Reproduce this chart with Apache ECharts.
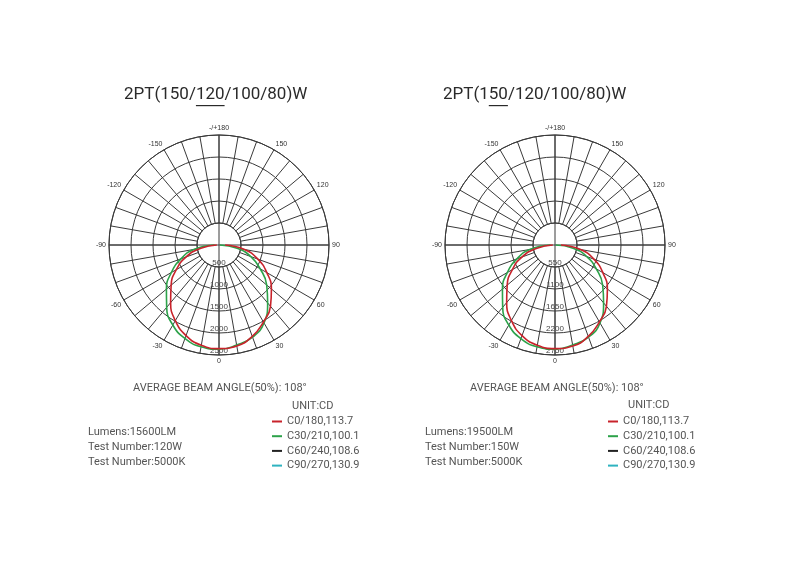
<!DOCTYPE html>
<html>
<head>
<meta charset="utf-8">
<title>2PT light distribution</title>
<script src="https://cdn.jsdelivr.net/npm/echarts/dist/echarts.min.js"></script>
<style>
    html, body { margin:0; padding:0; background:#fff; }
    #main { width:800px; height:582px; }
</style>
</head>
<body>
<div id="main"></div>
<script>
// gamma angles, 0 = straight down, + to the right
var angles = [-90,-80,-70,-60,-50,-40,-30,-20,-10,0,10,20,30,40,50,60,70,80,90];

// candela values
var leftC0   = [50,420,800,1120,1420,1710,1985,2190,2315,2355,2330,2210,2020,1820,1555,1255,940,590,140];
var leftC30  = [100,580,920,1250,1560,1850,2100,2260,2350,2370,2310,2230,2045,1720,1415,1080,770,420,20];
var rightC0  = [55,460,880,1230,1560,1880,2180,2410,2545,2590,2565,2430,2220,2000,1710,1380,1035,650,150];
var rightC30 = [110,640,1010,1375,1715,2035,2310,2490,2585,2605,2540,2450,2250,1890,1555,1190,845,460,20];
var emptyCurve = [];

var leftRings  = [500,1000,1500,2000,2500];
var rightRings = [550,1100,1650,2200,2750];

var titles      = ['2PT(150/120/100/80)W', '2PT(150/120/100/80)W'];
var underlined  = [['2PT(150/', '120'], ['2PT(1', '50']];
var beamText    = 'AVERAGE BEAM ANGLE(50%): 108°';
var unitText    = 'UNIT:CD';
var legendNames = ['C0/180,113.7', 'C30/210,100.1', 'C60/240,108.6', 'C90/270,130.9'];
var legendColors = ['#c8232b', '#2ca24a', '#222222', '#2fb3c0'];
var infoLeft  = ['Lumens:15600LM', 'Test Number:120W', 'Test Number:5000K'];
var infoRight = ['Lumens:19500LM', 'Test Number:150W', 'Test Number:5000K'];

var gridColor = '#3a3a3a';

function toPolar(vals) {
    return vals.map(function (v, i) {
        return [v, (angles[i] + 360) % 360];
    });
}

function angleLabel(v) {
    if (v % 30 !== 0 || v === 360) return '';
    if (v === 180) return '-/+180';
    return v < 180 ? String(v) : String(v - 360);
}

var polar = [], angleAxis = [], radiusAxis = [], series = [];

function addChart(cx, rings, curves) {
    var step = rings[1] - rings[0];
    var top = rings[rings.length - 1];
    var gridIdx = polar.length;
    // grid with the hole in the middle
    polar.push({ center: [cx, 245], radius: [22, 110] });
    // full radius, carries the data
    polar.push({ center: [cx, 245], radius: [0, 110] });

    angleAxis.push({
        polarIndex: gridIdx, type: 'value', min: 0, max: 360, interval: 10,
        startAngle: 270, clockwise: false,
        axisLine: { show: true, lineStyle: { color: gridColor, width: 1 } },
        axisTick: { show: false },
        splitLine: { show: true, lineStyle: { color: gridColor, width: 1 } },
        axisLabel: { show: true, margin: 3, fontSize: 7, color: '#333',
            fontFamily: 'Liberation Sans', formatter: angleLabel }
    });
    angleAxis.push({
        polarIndex: gridIdx + 1, type: 'value', min: 0, max: 360, interval: 90,
        startAngle: 270, clockwise: false,
        axisLine: { show: false }, axisTick: { show: false }, axisLabel: { show: false },
        splitLine: { show: true, lineStyle: { color: gridColor, width: 1 } }
    });
    radiusAxis.push({
        polarIndex: gridIdx, type: 'value', min: rings[0], max: top, interval: step,
        axisLine: { show: false }, axisTick: { show: false }, axisLabel: { show: false },
        splitLine: { show: true, lineStyle: { color: gridColor, width: 1 } }
    });
    radiusAxis.push({
        polarIndex: gridIdx + 1, type: 'value', min: 0, max: top, interval: step,
        axisLine: { show: false }, axisTick: { show: false }, splitLine: { show: false },
        axisLabel: { show: true, margin: 0, align: 'center', verticalAlign: 'bottom',
            fontSize: 8, color: '#444', fontFamily: 'Liberation Sans',
            formatter: function (v) { return v === 0 ? '' : String(v); } }
    });

    // green first so red sits on top
    var order = [1, 0, 2, 3];
    order.forEach(function (k) {
        series.push({
            name: legendNames[k], type: 'line', coordinateSystem: 'polar',
            polarIndex: gridIdx + 1, data: toPolar(curves[k]),
            smooth: 0.5, showSymbol: false, clip: false, silent: true,
            color: legendColors[k],
            lineStyle: { color: legendColors[k], width: 1.6 }
        });
    });
}

addChart(219, leftRings, [leftC0, leftC30, emptyCurve, emptyCurve]);
addChart(555, rightRings, [rightC0, rightC30, emptyCurve, emptyCurve]);

// plain texts
var ctx = document.createElement('canvas').getContext('2d');
ctx.font = '17px Roboto';
var graphics = [];
function addText(x, y, text, size, color) {
    graphics.push({ type: 'text', x: x, y: y, silent: true,
        style: { text: text, font: size + 'px Roboto', fill: color, verticalAlign: 'middle' } });
}
var titleX = [124, 443];
titleX.forEach(function (x, i) {
    addText(x, 95, titles[i], 17, '#2a2a2a');
    var w0 = ctx.measureText(underlined[i][0]).width;
    var w1 = ctx.measureText(underlined[i][1]).width;
    graphics.push({ type: 'rect', silent: true,
        shape: { x: x + w0, y: 105, width: w1, height: 1.2 },
        style: { fill: '#2a2a2a' } });
});
addText(133, 388, beamText, 11, '#555');
addText(470, 388, beamText, 11, '#555');
addText(292, 406, unitText, 11, '#555');
addText(628, 405, unitText, 11, '#555');
infoLeft.forEach(function (t, i) { addText(88, 432 + i * 15, t, 11, '#555'); });
infoRight.forEach(function (t, i) { addText(425, 432 + i * 15, t, 11, '#555'); });

function legendAt(x) {
    return {
        orient: 'vertical', left: x, top: 411, icon: 'rect',
        itemWidth: 10, itemHeight: 2, itemGap: 3.7, selectedMode: false,
        data: legendNames,
        textStyle: { fontSize: 11, color: '#555', fontFamily: 'Roboto' }
    };
}

var chart = echarts.init(document.getElementById('main'));
chart.setOption({
    backgroundColor: '#fff',
    animation: false,
    polar: polar,
    angleAxis: angleAxis,
    radiusAxis: radiusAxis,
    legend: [legendAt(267), legendAt(603)],
    graphic: graphics,
    series: series
});
</script>
</body>
</html>
